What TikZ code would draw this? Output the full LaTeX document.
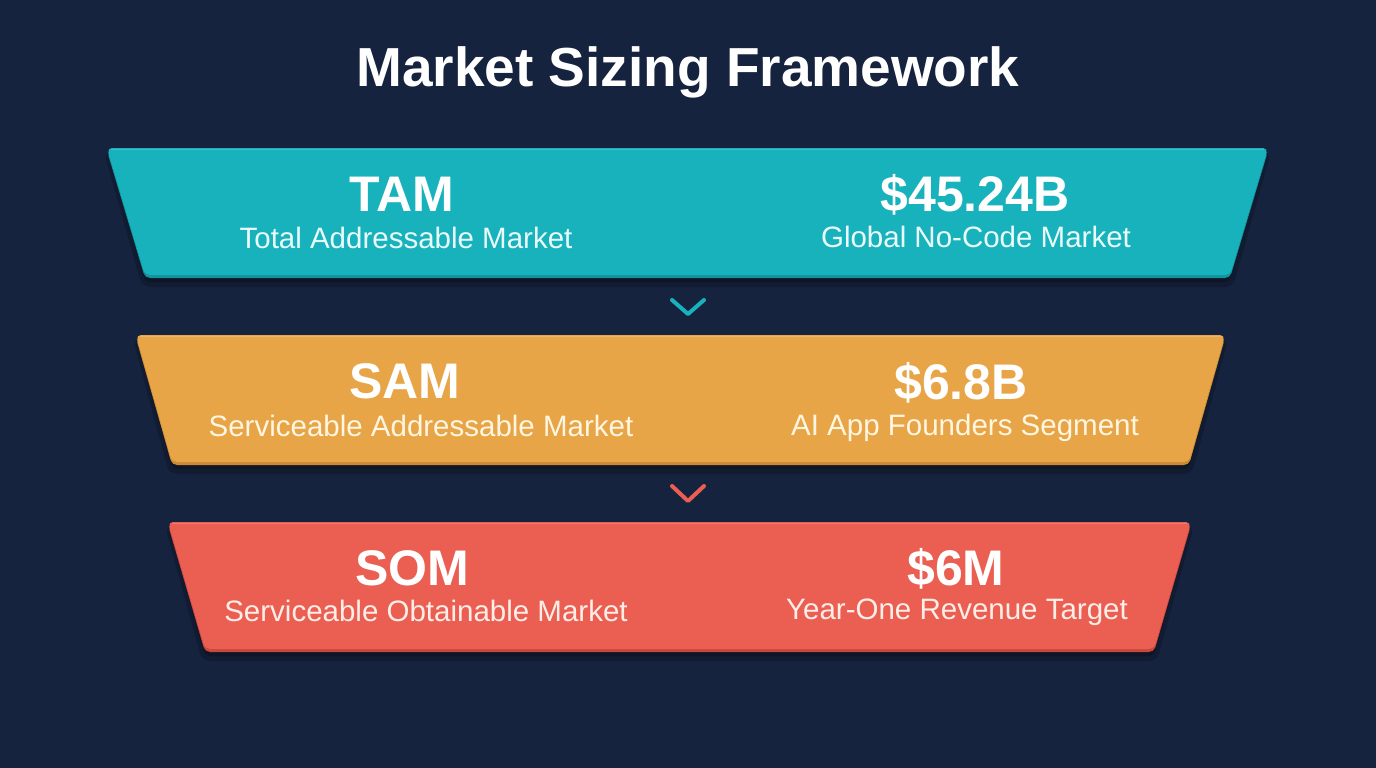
\documentclass[tikz,border=0pt]{standalone}
\usepackage{fontspec}
\setmainfont{Liberation Sans}
\definecolor{bg}{HTML}{15233E}
\definecolor{teal}{HTML}{18B2BC}
\definecolor{tealdk}{HTML}{12949E}
\definecolor{tealtx}{HTML}{EAFBFC}
\definecolor{orng}{HTML}{E7A547}
\definecolor{orngdk}{HTML}{C98A33}
\definecolor{orngtx}{HTML}{FFF6E2}
\definecolor{coral}{HTML}{EB5F52}
\definecolor{coraldk}{HTML}{C9483E}
\definecolor{coraltx}{HTML}{FFEDE8}
\tikzset{
  head/.style={anchor=base, font=\bfseries\fontsize{50}{52}\selectfont},
  sub/.style={anchor=base, font=\fontsize{29.5}{31}\selectfont},
  chev/.style={line width=4pt, line cap=round, line join=round}
}
% #1 colour name, #2 top-left x, #3 top-right x, #4 top y, #5 inset, #6 height
\newcommand\mytier[6]{%
  \fill[black, opacity=.18, rounded corners=8pt] (#2-3,#4+4) -- (#3+3,#4+4) -- (#3-#5+3,#4+#6+12) -- (#2+#5-3,#4+#6+12) -- cycle;
  \fill[black, opacity=.22, rounded corners=6pt] (#2,#4+3) -- (#3,#4+3) -- (#3-#5,#4+#6+7) -- (#2+#5,#4+#6+7) -- cycle;
  \fill[#1dk, rounded corners=5pt] (#2,#4+3) -- (#3,#4+3) -- (#3-#5,#4+#6+3) -- (#2+#5,#4+#6+3) -- cycle;
  \fill[#1, rounded corners=5pt] (#2,#4) -- (#3,#4) -- (#3-#5,#4+#6) -- (#2+#5,#4+#6) -- cycle;
  \draw[white, opacity=.18, line width=1.2pt] (#2+4,#4+1.2) -- (#3-4,#4+1.2);
}
\begin{document}
\begin{tikzpicture}[x=1pt,y=-1pt]
\useasboundingbox (0,0) rectangle (1376,768);
\fill[bg] (0,0) rectangle (1376,768);

\node[anchor=base, text=white, font=\bfseries\fontsize{55}{57}\selectfont] (title) at (688,86) {Market Sizing Framework};

\mytier{teal}{107}{1268}{148}{38}{127}
\mytier{orng}{136}{1225}{335}{36}{127}
\mytier{coral}{168}{1191}{522}{37}{127}

% TAM
\node[head, text=white] (tamh) at (402,211) {TAM};
\node[sub, text=tealtx] (tams) at (406,248) {Total Addressable Market};
\node[head, text=white] (tamv) at (975,211) {\$45.24B};
\node[sub, text=tealtx] (tamvs) at (976,247) {Global No-Code Market};
% SAM
\node[head, text=white] (samh) at (405,398) {SAM};
\node[sub, text=orngtx] (sams) at (421,436) {Serviceable Addressable Market};
\node[head, text=white] (samv) at (961,399) {\$6.8B};
\node[sub, text=orngtx] (samvs) at (965,435) {AI App Founders Segment};
% SOM
\node[head, text=white] (somh) at (412,585) {SOM};
\node[sub, text=coraltx] (soms) at (426,621) {Serviceable Obtainable Market};
\node[head, text=white] (somv) at (956,585) {\$6M};
\node[sub, text=coraltx] (somvs) at (957,619) {Year-One Revenue Target};

% chevrons
\coordinate (c1) at (688,314);
\coordinate (c2) at (688,501);
\draw[chev, draw=teal] (c1) ++(-16,-14) -- (c1) -- ++(16,-14);
\draw[chev, draw=coral] (c2) ++(-16,-15) -- (c2) -- ++(16,-15);
\end{tikzpicture}
\end{document}
